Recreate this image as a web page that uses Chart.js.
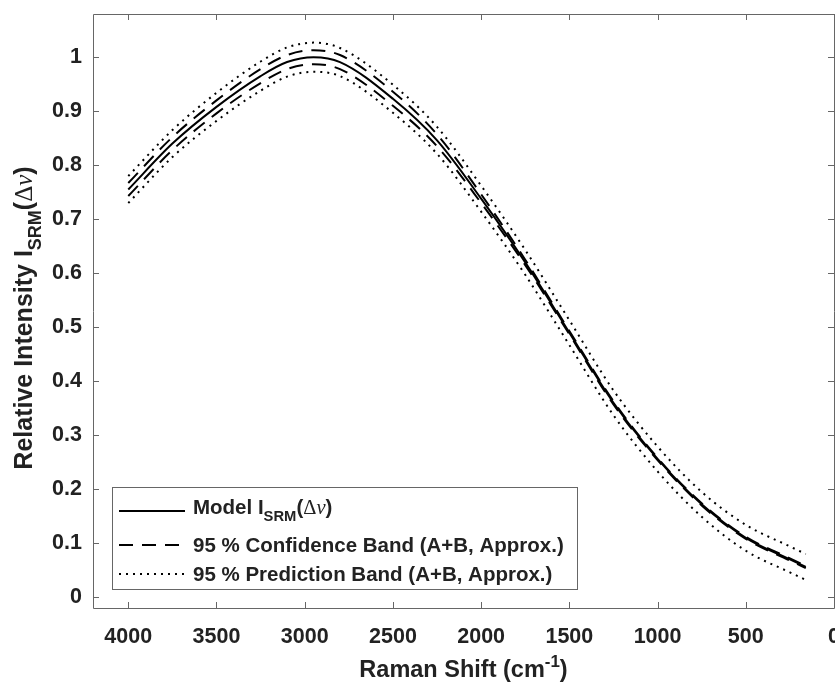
<!DOCTYPE html>
<html>
<head>
<meta charset="utf-8">
<title>Relative intensity vs Raman shift</title>
<script src="https://cdn.jsdelivr.net/npm/chart.js@4.4.1/dist/chart.umd.min.js"></script>
<style>
  html, body { margin: 0; padding: 0; background: #fff; overflow: hidden; }
  #wrap { width: 835px; height: 684px; overflow: hidden; }
</style>
</head>
<body>
<div id="wrap"><canvas id="chart" width="880" height="684"></canvas></div>
<script>
// Raman shift (cm-1) sample positions
const shifts = [4000, 3750, 3500, 3250, 3100, 2950, 2800, 2500, 2250, 2000, 1750, 1500, 1250, 1000, 750, 500, 250, 160];
// Model I_SRM
const model = [0.755, 0.840, 0.908, 0.965, 0.991, 1.000, 0.991, 0.923, 0.846, 0.738, 0.620, 0.490, 0.360, 0.256, 0.172, 0.110, 0.070, 0.056];
// 95 % confidence band
const confUpper = [0.767, 0.852, 0.920, 0.978, 1.004, 1.013, 1.004, 0.936, 0.857, 0.746, 0.625, 0.493, 0.363, 0.258, 0.174, 0.112, 0.072, 0.058];
const confLower = [0.743, 0.828, 0.896, 0.952, 0.978, 0.987, 0.978, 0.910, 0.835, 0.730, 0.615, 0.487, 0.357, 0.254, 0.170, 0.108, 0.068, 0.054];
// 95 % prediction band
const predUpper = [0.780, 0.865, 0.934, 0.992, 1.018, 1.027, 1.017, 0.949, 0.871, 0.762, 0.643, 0.513, 0.383, 0.279, 0.195, 0.134, 0.094, 0.080];
const predLower = [0.730, 0.815, 0.882, 0.938, 0.964, 0.973, 0.965, 0.897, 0.821, 0.714, 0.597, 0.467, 0.337, 0.233, 0.149, 0.086, 0.046, 0.032];

const xTicks = [4000, 3500, 3000, 2500, 2000, 1500, 1000, 500, 0];
const yTicks = [0, 0.1, 0.2, 0.3, 0.4, 0.5, 0.6, 0.7, 0.8, 0.9, 1];

const legendRows = [
  [{ text: 'Model I' }, { text: 'SRM', sub: true }, { text: '(' }, { text: 'Δ', greek: true }, { text: 'ν', math: true }, { text: ')' }],
  [{ text: '95 % Confidence Band (A+B, Approx.)' }],
  [{ text: '95 % Prediction Band (A+B, Approx.)' }],
];
const yTitle = [{ text: 'Relative Intensity I' }, { text: 'SRM', sub: true }, { text: '(' }, { text: 'Δ', greek: true }, { text: 'ν', math: true }, { text: ')' }];
const xTitle = [{ text: 'Raman Shift (cm' }, { text: '-1', sup: true }, { text: ')' }];

const INK = '#222';
const AXIS = '#666';
const SANS = '"Liberation Sans", Arial, sans-serif';

function toPoints(values) {
  return shifts.map((x, i) => ({ x, y: values[i] }));
}

function partFont(p, size) {
  const s = (p.sub || p.sup) ? size * 0.72 : size;
  if (p.math) return `italic ${s}px "Liberation Serif", serif`;
  if (p.greek) return `${s}px "Liberation Serif", serif`;
  return `bold ${s}px ${SANS}`;
}

function richWidth(ctx, parts, size) {
  let w = 0;
  parts.forEach((p) => {
    ctx.font = partFont(p, size);
    w += ctx.measureText(p.text).width;
  });
  return w;
}

function drawRich(ctx, parts, x, y, size) {
  let cx = x;
  parts.forEach((p) => {
    ctx.font = partFont(p, size);
    let dy = 0;
    if (p.sub) dy = size * 0.34;
    if (p.sup) dy = -size * 0.42;
    ctx.fillText(p.text, cx, y + dy);
    cx += ctx.measureText(p.text).width;
  });
}

// Box, inward ticks, titles and legend, MATLAB style
const decorations = {
  id: 'decorations',
  afterDraw(chart) {
    const { ctx, chartArea: a } = chart;
    const xs = chart.scales.x;
    const ys = chart.scales.y;
    const tl = 6;

    ctx.save();
    ctx.strokeStyle = AXIS;
    ctx.lineWidth = 1;
    ctx.beginPath();
    ctx.rect(Math.round(a.left) + 0.5, Math.round(a.top) + 0.5,
      Math.round(a.right - a.left), Math.round(a.bottom - a.top));
    xTicks.forEach((v) => {
      const px = Math.round(xs.getPixelForValue(v)) + 0.5;
      ctx.moveTo(px, a.bottom); ctx.lineTo(px, a.bottom - tl);
      ctx.moveTo(px, a.top); ctx.lineTo(px, a.top + tl);
    });
    yTicks.forEach((v) => {
      const py = Math.round(ys.getPixelForValue(v)) + 0.5;
      ctx.moveTo(a.left, py); ctx.lineTo(a.left + tl, py);
      ctx.moveTo(a.right, py); ctx.lineTo(a.right - tl, py);
    });
    ctx.stroke();

    // axis titles
    ctx.fillStyle = INK;
    ctx.textBaseline = 'alphabetic';
    ctx.textAlign = 'left';
    const xsize = 23.5;
    const xw = richWidth(ctx, xTitle, xsize);
    drawRich(ctx, xTitle, (a.left + a.right) / 2 - xw / 2, 677, xsize);

    const ysize = 25;
    const yw = richWidth(ctx, yTitle, ysize);
    ctx.save();
    ctx.translate(32, 318);
    ctx.rotate(-Math.PI / 2);
    drawRich(ctx, yTitle, -yw / 2, 0, ysize);
    ctx.restore();

    // legend
    const box = { x: a.left + 19, y: a.bottom - 121, w: 465, h: 102 };
    ctx.fillStyle = '#fff';
    ctx.fillRect(box.x, box.y, box.w, box.h);
    ctx.strokeStyle = AXIS;
    ctx.strokeRect(Math.round(box.x) + 0.5, Math.round(box.y) + 0.5, box.w, box.h);
    const lineY = [24, 58, 87];
    const textY = [27, 65, 94];
    chart.data.datasets.slice(0, 3).forEach((ds, i) => {
      ctx.save();
      ctx.strokeStyle = ds.borderColor;
      ctx.lineWidth = ds.borderWidth;
      ctx.setLineDash(ds.borderDash || []);
      ctx.beginPath();
      ctx.moveTo(box.x + 7, box.y + lineY[i]);
      ctx.lineTo(box.x + 73, box.y + lineY[i]);
      ctx.stroke();
      ctx.restore();
      ctx.fillStyle = INK;
      drawRich(ctx, legendRows[i], box.x + 81, box.y + textY[i], 20.5);
    });
    ctx.restore();
  },
};

function line(data, dash) {
  return {
    data: toPoints(data),
    borderColor: '#000',
    borderWidth: 2,
    borderDash: dash,
    pointRadius: 0,
    fill: false,
    cubicInterpolationMode: 'monotone',
  };
}

const datasets = [
  line(model, []),
  line(confUpper, [14, 9]),
  line(predUpper, [2, 5]),
  line(confLower, [14, 9]),
  line(predLower, [2, 5]),
];

function noPadding(scale) {
  scale.paddingTop = 0;
  scale.paddingBottom = 0;
  scale.paddingLeft = 0;
  scale.paddingRight = 0;
}

new Chart(document.getElementById('chart').getContext('2d'), {
  type: 'line',
  data: { datasets },
  options: {
    responsive: false,
    animation: false,
    events: [],
    layout: { padding: { top: 14, right: 46, left: 0, bottom: 0 } },
    plugins: { legend: { display: false }, tooltip: { enabled: false } },
    scales: {
      x: {
        type: 'linear',
        reverse: true,
        min: 0,
        max: 4200,
        grid: { display: false, drawTicks: false },
        border: { display: false },
        afterBuildTicks: (scale) => { scale.ticks = xTicks.map((value) => ({ value })); },
        afterFit: (scale) => { scale.height = 76; noPadding(scale); },
        ticks: {
          padding: 16,
          color: INK,
          maxRotation: 0,
          font: { family: SANS, size: 21.5, weight: 'bold' },
          callback: (v) => String(v),
        },
      },
      y: {
        type: 'linear',
        min: -0.02,
        max: 1.08,
        grid: { display: false, drawTicks: false },
        border: { display: false },
        afterBuildTicks: (scale) => { scale.ticks = yTicks.map((value) => ({ value })); },
        afterFit: (scale) => { scale.width = 93; noPadding(scale); },
        ticks: {
          padding: 11,
          color: INK,
          font: { family: SANS, size: 21.5, weight: 'bold' },
          callback: (v) => String(Math.round(v * 10) / 10),
        },
      },
    },
  },
  plugins: [decorations],
});
</script>
</body>
</html>
